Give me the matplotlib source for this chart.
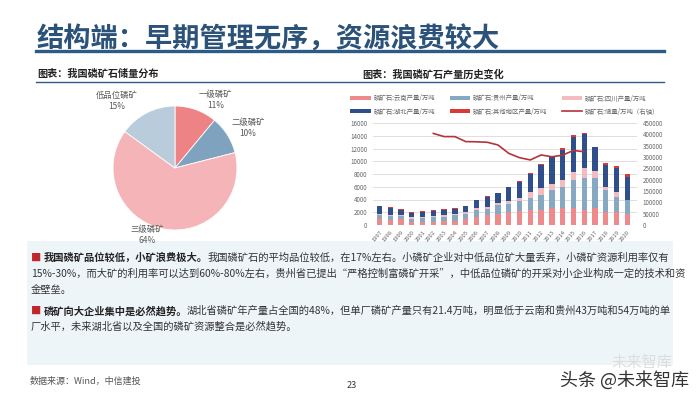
import numpy as np
import matplotlib
matplotlib.use("Agg")
import matplotlib.pyplot as plt
from matplotlib.patches import Rectangle
from matplotlib.lines import Line2D

plt.rcParams['font.family'] = ['Noto Sans CJK SC', 'DejaVu Sans']

# pie data
pie_labels = ["一级磷矿", "二级磷矿", "三级磷矿", "低品位磷矿"]
pie_values = [11, 10, 64, 15]
pie_colors = ["#EE8386", "#7FA3BF", "#F5B5B8", "#B9CCDC"]

# bar data (万吨)
years = [str(y) for y in range(1997, 2021)]
yunnan = [900, 800, 900, 400, 400, 500, 600, 700, 900, 1200, 1500, 1700,
          2000, 2200, 2300, 2400, 2700, 2700, 2700, 2300, 2600, 2100, 2000, 1800]
guizhou = [600, 550, 500, 600, 700, 700, 700, 800, 900, 1100, 1000, 1400,
           1300, 1600, 2000, 2300, 2800, 3300, 4300, 5100, 4800, 3400, 2400, 2100]
sichuan = [300, 250, 200, 200, 200, 200, 250, 250, 250, 300, 400, 300,
           400, 500, 900, 1100, 900, 1000, 1300, 1500, 1100, 500, 800, 0]
hubei = [1150, 1050, 800, 700, 750, 800, 800, 800, 900, 1250, 1550, 1550,
         2200, 2450, 2800, 3600, 4200, 4800, 5500, 5300, 3700, 3400, 3800, 3700]
other = [100, 100, 100, 100, 100, 100, 100, 100, 100, 100, 100, 100,
         100, 100, 100, 100, 200, 200, 300, 200, 100, 300, 300, 400]
# reserves (右轴), 2002-2016
reserve_years = [str(y) for y in range(2002, 2017)]
reserve = [404000, 390000, 390000, 368000, 367000, 365000, 353000, 316000,
           297000, 287000, 309000, 301000, 308000, 329000, 323000]

series_names = ["磷矿石:云南产量/万吨", "磷矿石:贵州产量/万吨", "磷矿石:四川产量/万吨",
                "磷矿石:湖北产量/万吨", "磷矿石:其他地区产量/万吨"]
series_colors = ["#EE8A8C", "#86A8C0", "#F3BCC0", "#2F4F8C", "#D93A36"]
line_name = "磷矿石:储量/万吨（右轴）"
line_color = "#B3343A"

W, H = 700, 394
fig = plt.figure(figsize=(7, 3.94), dpi=100)
fig.patch.set_facecolor("white")


def fx(px):
    return px / W


def fy(py):
    return 1 - py / H


# header
fig.text(fx(37), fy(40), "结构端：早期管理无序，资源浪费较大", fontsize=19.6,
         fontweight="bold", color="#2B5279", va="center", ha="left")
fig.add_artist(Line2D([fx(36), fx(664)], [fy(51), fy(51)], color="#2E5A86", lw=2.4))
fig.text(fx(37), fy(74), "图表：我国磷矿石储量分布", fontsize=7.3, fontweight="bold",
         color="#222222", va="center")
fig.text(fx(362), fy(74), "图表：我国磷矿石产量历史变化", fontsize=7.3, fontweight="bold",
         color="#222222", va="center")
fig.add_artist(Line2D([fx(36), fx(664)], [fy(82), fy(82)], color="#2E5A86", lw=1.0))

# pie
cx, cy, r = 175, 168, 62
axp = fig.add_axes([fx(cx - r), fy(cy + r), 2 * r / W, 2 * r / H])
axp.pie(pie_values, colors=pie_colors, startangle=90, counterclock=False,
        wedgeprops=dict(edgecolor="white", linewidth=0.6))
axp.set_xlim(-1, 1)
axp.set_ylim(-1, 1)
axp.set_aspect("auto")
axp.axis("off")
label_pos = [(0.65, 1.09), (1.18, 0.645), (-0.45, -1.08), (-0.94, 1.08)]
for name, v, (lx, ly) in zip(pie_labels, pie_values, label_pos):
    axp.text(lx, ly, f"{name}\n{v}%", fontsize=6, color="#595959",
             ha="center", va="center", linespacing=1.3)

# bar chart
x = np.arange(len(years))
axb = fig.add_axes([fx(373), fy(225), 264 / W, 102 / H])
bottom = np.zeros(len(years))
handles = []
for vals, name, col in zip([yunnan, guizhou, sichuan, hubei, other], series_names, series_colors):
    b = axb.bar(x, vals, width=0.5, bottom=bottom, color=col, label=name, zorder=3)
    bottom += np.array(vals)
    handles.append(b)
axb.set_xlim(-0.6, 23.9)
axb.set_ylim(0, 16000)
axb.set_yticks(np.arange(0, 16001, 2000))
axb.set_xticks(x)
axb.set_xticklabels(years, rotation=50, fontsize=4.2, color="#666666", ha="right",
                    rotation_mode="anchor")
axb.tick_params(axis="y", labelsize=4.5, labelcolor="#666666", length=0, pad=4)
axb.tick_params(axis="x", length=0, pad=3)
axb.grid(axis="y", color="#D9D9D9", lw=0.6, zorder=0)
for s in axb.spines.values():
    s.set_visible(False)

axr = axb.twinx()
rx = [years.index(y) for y in reserve_years]
ln, = axr.plot(rx, reserve, color=line_color, lw=1.2, label=line_name, zorder=4)
axr.set_ylim(0, 450000)
axr.set_yticks(np.arange(0, 450001, 50000))
axr.tick_params(axis="y", labelsize=4.5, labelcolor="#666666", length=0, pad=4)
for s in axr.spines.values():
    s.set_visible(False)

order = [handles[0], handles[3], handles[1], handles[4], handles[2], ln]
fig.legend(order, [h.get_label() for h in order], ncol=3, frameon=False,
           fontsize=4.6, labelcolor="#666666", loc="center",
           bbox_to_anchor=(fx(505), fy(105)), handlelength=3.2, handleheight=0.6,
           columnspacing=2.2, labelspacing=0.8, handletextpad=0.5)

# text box
fig.add_artist(Rectangle((fx(27), fy(365)), 646 / W, 124 / H, transform=fig.transFigure,
                         facecolor="#EEF5F9", edgecolor="none", zorder=0))

renderer = fig.canvas.get_renderer()
body_fs = 7.4


def rich_line(px, py, parts):
    xpos = fx(px)
    for txt, bold, col in parts:
        t = fig.text(xpos, fy(py), txt, fontsize=body_fs, color=col, va="center",
                     ha="left", fontweight="bold" if bold else "normal")
        bb = t.get_window_extent(renderer=renderer)
        xpos = fig.transFigure.inverted().transform((bb.x1, bb.y0))[0]


rich_line(31, 258, [("■ ", False, "#C0262D"), ("我国磷矿品位较低，小矿浪费极大。", True, "#222222"),
                    ("我国磷矿石的平均品位较低，在17%左右。小磷矿企业对中低品位矿大量丢弃，小磷矿资源利用率仅有",
                     False, "#333333")])
rich_line(31, 274, [("15%-30%，而大矿的利用率可以达到60%-80%左右，贵州省已提出“严格控制富磷矿开采”，中低品位磷矿的开采对小企业构成一定的技术和资",
                     False, "#333333")])
rich_line(31, 290, [("金壁垒。", False, "#333333")])
rich_line(31, 311, [("■ ", False, "#C0262D"), ("磷矿向大企业集中是必然趋势。", True, "#222222"),
                    ("湖北省磷矿年产量占全国的48%，但单厂磷矿产量只有21.4万吨，明显低于云南和贵州43万吨和54万吨的单",
                     False, "#333333")])
rich_line(31, 327, [("厂水平，未来湖北省以及全国的磷矿资源整合是必然趋势。", False, "#333333")])

# footer
fig.text(fx(30), fy(381), "数据来源：Wind，中信建投", fontsize=6.5, color="#555555",
         style="italic", va="center")
fig.text(fx(352), fy(385), "23", fontsize=6.5, color="#333333", va="center", ha="center")
fig.text(fx(612), fy(362), "未来智库", fontsize=11, color="#DDDDDD", va="center", ha="left")
fig.text(fx(560), fy(380), "头条 @未来智库", fontsize=13, color="#333333", va="center", ha="left")

fig.savefig("out.png", dpi=100)
